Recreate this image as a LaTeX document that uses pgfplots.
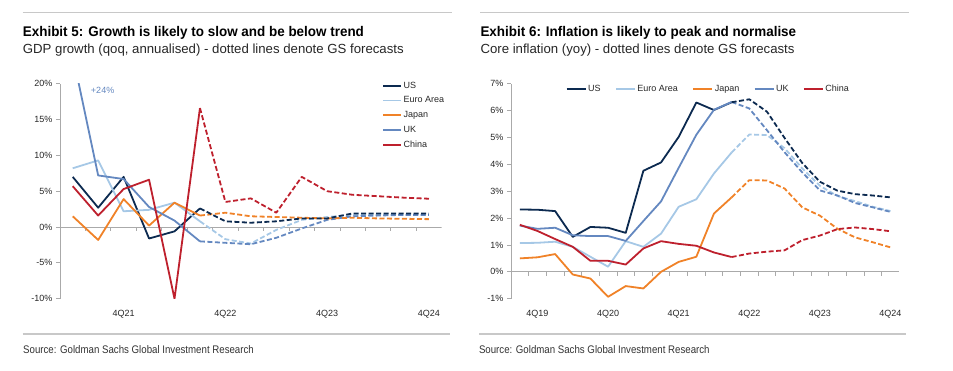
\documentclass[border=0pt]{standalone}
\usepackage{fontspec}
\setmainfont{Liberation Sans}
\newfontfamily\titlefont[FakeStretch=0.96]{Liberation Sans}
\newfontfamily\srcfont[FakeStretch=0.88]{Liberation Sans}
\usepackage{pgfplots}
\usepackage{pgfplotstable}
\pgfplotsset{compat=1.18}

\definecolor{cUS}{RGB}{12,42,80}
\definecolor{cEA}{RGB}{166,200,230}
\definecolor{cJP}{RGB}{240,130,40}
\definecolor{cUK}{RGB}{100,136,192}
\definecolor{cCN}{RGB}{190,32,45}
\definecolor{axisgray}{RGB}{170,170,170}
\definecolor{rulegray}{RGB}{200,200,200}

\pgfplotstableread{
x us ea jp uk cn
0 7.0 8.2 1.5 24.0 5.7
1 2.7 9.3 -1.8 7.2 1.6
2 7.0 2.2 3.9 6.7 5.3
3 -1.6 2.4 0.2 2.8 6.6
4 -0.6 3.4 3.4 0.9 -10.0
5 2.6 0.8 1.6 -2.0 16.6
}\gdpact
\pgfplotstableread{
x us ea jp uk cn
5 2.6 0.8 1.6 -2.0 16.6
6 0.8 -1.7 2.0 -2.2 3.5
7 0.6 -2.3 1.5 -2.4 4.0
8 0.8 -0.4 1.4 -1.5 2.0
9 1.2 1.0 1.3 -0.2 7.0
10 1.2 1.4 1.2 1.0 5.0
11 1.9 1.7 1.3 1.5 4.5
12 1.9 1.7 1.2 1.6 4.3
13 1.9 1.7 1.15 1.7 4.1
14 1.9 1.7 1.1 1.7 3.95
}\gdpfc
\pgfplotstableread{
x us ea jp uk cn
0 2.32 1.07 0.50 1.72 1.75
1 2.31 1.08 0.54 1.60 1.52
2 2.26 1.12 0.66 1.64 1.22
3 1.30 0.93 -0.10 1.36 0.93
4 1.67 0.56 -0.25 1.33 0.41
5 1.64 0.19 -0.93 1.33 0.41
6 1.45 1.14 -0.53 1.15 0.27
7 3.76 0.93 -0.62 1.89 0.87
8 4.07 1.42 0.00 2.62 1.14
9 5.02 2.42 0.37 3.87 1.04
10 6.30 2.70 0.56 5.10 0.97
11 6.02 3.66 2.17 6.03 0.72
12 6.31 4.44 2.77 6.32 0.55
}\cpiact
\pgfplotstableread{
x us ea jp uk cn
12 6.31 4.44 2.77 6.32 0.55
13 6.42 5.11 3.41 6.08 0.68
14 5.96 5.09 3.40 5.27 0.75
15 4.98 4.60 3.10 4.45 0.80
16 4.05 3.85 2.40 3.70 1.18
17 3.35 3.20 2.09 3.03 1.35
18 3.02 2.82 1.60 2.84 1.59
19 2.89 2.63 1.28 2.56 1.65
20 2.84 2.42 1.10 2.40 1.59
21 2.77 2.26 0.91 2.23 1.51
}\cpifc

\pgfplotsset{
  gsaxis/.style={
    scale only axis, anchor=north west,
    axis y line=left, axis x line=bottom,
    axis line style={-, draw=axisgray, line width=0.8pt},
    x axis line style={draw=none},
    tick align=outside,
    major tick length=4pt,
    ytick style={draw=axisgray, line width=0.8pt},
    xtick style={draw=none},
    tick label style={font=\fontsize{9}{10}\selectfont, text=black!85},
    /pgf/number format/assume math mode=true,
    yticklabel={\pgfmathprintnumber{\tick}\%},
    xticklabel style={yshift=-4pt},
    every axis plot/.append style={line width=1.8pt, line join=round},
    fc/.style={dash pattern=on 5pt off 2.5pt},
    legend image code/.code={\draw[#1, line width=1.8pt] (0pt,0pt) -- (18pt,0pt);},
    legend style={draw=none, fill=none, font=\fontsize{9}{10}\selectfont, text=black!85,
      nodes={inner xsep=1.5pt}},
    legend cell align=left,
  }
}

\begin{document}
\begin{tikzpicture}
\path[use as bounding box] (0pt,0pt) rectangle (953pt,-370pt);

% rules
\draw[rulegray, line width=1.3pt] (22.7pt,-12.7pt) -- (451.7pt,-12.7pt);
\draw[rulegray, line width=1.3pt] (480pt,-12.7pt) -- (909pt,-12.7pt);
\draw[rulegray, line width=1.3pt] (22.7pt,-334pt) -- (449.7pt,-334pt);
\draw[rulegray, line width=1.3pt] (479pt,-334pt) -- (906pt,-334pt);

% titles
\node[anchor=base west, inner sep=0pt] at (22.7pt,-36pt) {\titlefont\bfseries\fontsize{14}{16}\selectfont Exhibit 5: Growth is likely to slow and be below trend};
\node[anchor=base west, inner sep=0pt, text=black!85] at (22.7pt,-53pt) {\fontsize{13.2}{15}\selectfont GDP growth (qoq, annualised) - dotted lines denote GS forecasts};
\node[anchor=base west, inner sep=0pt] at (480.3pt,-36pt) {\titlefont\bfseries\fontsize{14}{16}\selectfont Exhibit 6: Inflation is likely to peak and normalise};
\node[anchor=base west, inner sep=0pt, text=black!85] at (480.3pt,-53pt) {\fontsize{13.2}{15}\selectfont Core inflation (yoy) - dotted lines denote GS forecasts};

\node[anchor=west, inner sep=0pt, text=black!80] at (23pt,-350pt) {\srcfont\fontsize{11}{13}\selectfont Source: Goldman Sachs Global Investment Research};
\node[anchor=west, inner sep=0pt, text=black!80] at (478.8pt,-350pt) {\srcfont\fontsize{11}{13}\selectfont Source: Goldman Sachs Global Investment Research};

% ---------- left chart ----------
\begin{axis}[gsaxis,
  at={(60pt,-83.7pt)}, width=381.7pt, height=215pt,
  xmin=-0.5, xmax=14.5, ymin=-10, ymax=20,
  ytick={-10,-5,0,5,10,15,20},
  xtick={2,6,10,14}, xticklabels={4Q21,4Q22,4Q23,4Q24},
  legend style={at={(rel axis cs:0.836,1.028)}, anchor=north west, row sep=3pt},
]
\draw[axisgray, line width=0.8pt] (axis cs:-0.5,0) -- (axis cs:14.5,0);
\pgfplotsinvokeforeach{0.5,1.5,2.5,3.5,4.5,5.5,6.5,7.5,8.5,9.5,10.5,11.5,12.5,13.5}{
  \draw[axisgray, line width=0.8pt] (axis cs:#1,0) -- ++(0pt,-4pt);
}
\addplot[cUS] table[x=x,y=us] {\gdpact}; \addlegendentry{US}
\addplot[cEA] table[x=x,y=ea] {\gdpact}; \addlegendentry{Euro Area}
\addplot[cJP] table[x=x,y=jp] {\gdpact}; \addlegendentry{Japan}
\addplot[cUK] table[x=x,y=uk] {\gdpact}; \addlegendentry{UK}
\addplot[cCN] table[x=x,y=cn] {\gdpact}; \addlegendentry{China}
\addplot[cEA, fc, forget plot] table[x=x,y=ea] {\gdpfc};
\addplot[cUK, fc, forget plot] table[x=x,y=uk] {\gdpfc};
\addplot[cJP, fc, forget plot] table[x=x,y=jp] {\gdpfc};
\addplot[cUS, fc, forget plot] table[x=x,y=us] {\gdpfc};
\addplot[cCN, fc, forget plot] table[x=x,y=cn] {\gdpfc};
\node[anchor=west, inner sep=0pt, text=cUK, font=\fontsize{9}{10}\selectfont] at (axis cs:0.71,19.07) {+24\%};
\end{axis}

% ---------- right chart ----------
\begin{axis}[gsaxis,
  at={(511pt,-83.7pt)}, width=388.3pt, height=215pt,
  xmin=-0.5, xmax=21.5, ymin=-1, ymax=7,
  ytick={-1,0,1,2,3,4,5,6,7},
  xtick={1,5,9,13,17,21}, xticklabels={4Q19,4Q20,4Q21,4Q22,4Q23,4Q24},
  legend columns=5,
  legend style={at={(rel axis cs:0.1330,1.012)}, anchor=north west,
    /tikz/every even column/.append style={column sep=13pt}},
  legend image code/.code={\draw[#1, line width=1.8pt] (0pt,0pt) -- (19pt,0pt);},
]
\draw[axisgray, line width=0.8pt] (axis cs:-0.5,0) -- (axis cs:21.5,0);
\pgfplotsinvokeforeach{0.5,1.5,2.5,3.5,4.5,5.5,6.5,7.5,8.5,9.5,10.5,11.5,12.5,13.5,14.5,15.5,16.5,17.5,18.5,19.5,20.5}{
  \draw[axisgray, line width=0.8pt] (axis cs:#1,0) -- ++(0pt,-4pt);
}
\addplot[cUS] table[x=x,y=us] {\cpiact}; \addlegendentry{US}
\addplot[cEA] table[x=x,y=ea] {\cpiact}; \addlegendentry{Euro Area}
\addplot[cJP] table[x=x,y=jp] {\cpiact}; \addlegendentry{Japan}
\addplot[cUK] table[x=x,y=uk] {\cpiact}; \addlegendentry{UK}
\addplot[cCN] table[x=x,y=cn] {\cpiact}; \addlegendentry{China}
\addplot[cEA, fc, forget plot] table[x=x,y=ea] {\cpifc};
\addplot[cJP, fc, forget plot] table[x=x,y=jp] {\cpifc};
\addplot[cUK, fc, forget plot] table[x=x,y=uk] {\cpifc};
\addplot[cCN, fc, forget plot] table[x=x,y=cn] {\cpifc};
\addplot[cUS, fc, forget plot] table[x=x,y=us] {\cpifc};
\end{axis}
\end{tikzpicture}
\end{document}
